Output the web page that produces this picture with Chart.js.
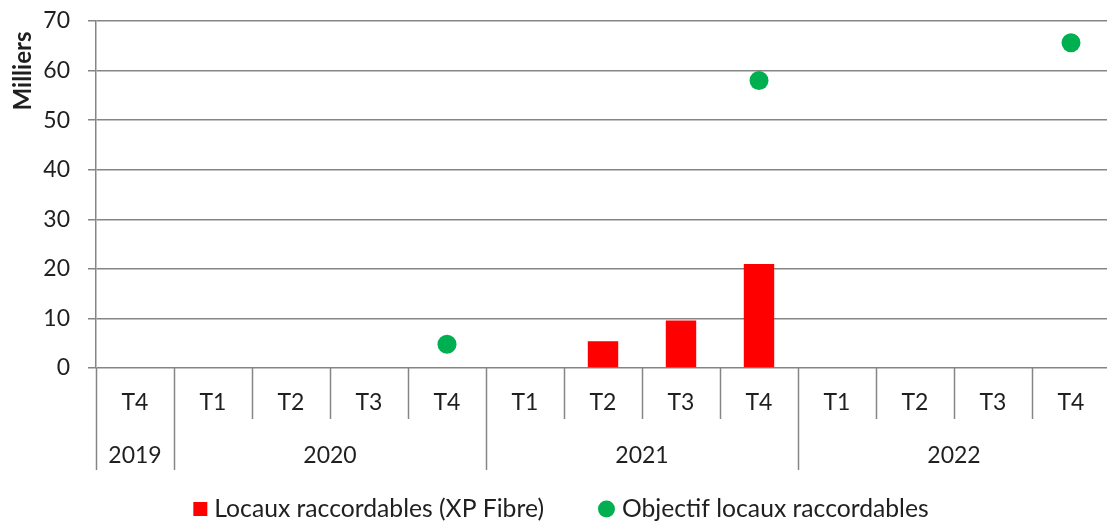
<!DOCTYPE html>
<html lang="fr">
<head>
<meta charset="utf-8">
<title>Locaux raccordables</title>
<script src="https://cdn.jsdelivr.net/npm/chart.js@4/dist/chart.umd.min.js"></script>
<style>
  html, body { margin: 0; padding: 0; background: #ffffff; overflow: hidden; }
  #wrap { width: 1107px; height: 527px; overflow: hidden; }
  canvas { display: block; }
</style>
</head>
<body>
<div id="wrap"><canvas id="c" width="1110" height="527"></canvas></div>
<script>
// Quarters on the axis, with their years grouped underneath
const quarters = ['T4', 'T1', 'T2', 'T3', 'T4', 'T1', 'T2', 'T3', 'T4', 'T1', 'T2', 'T3', 'T4'];
const years = ['2019', '2020', '2021', '2022'];
const yearSpans = [1, 4, 4, 4];

// Values in thousands of premises
const locauxRaccordables = [null, null, null, null, null, null, 5.4, 9.6, 21.0, null, null, null, null];
const objectifLocaux = [null, null, null, null, 4.8, null, null, null, 58.0, null, null, null, 65.6];

const yTicks = [0, 10, 20, 30, 40, 50, 60, 70];

const seriesNames = ['Locaux raccordables (XP Fibre)', 'Objectif locaux raccordables'];
const RED = '#ff0000';
const GREEN = '#00b050';
const GRID = '#858585';
const TEXT = '#1f1f1f';
const FONT = 'Lato, "Noto Sans", sans-serif';

Chart.defaults.font.family = FONT;
Chart.defaults.color = TEXT;

// Draws the two-level category axis, the unit label and the legend
const decorations = {
  id: 'decorations',
  afterDraw(chart) {
    const { ctx, chartArea: a, scales: { x } } = chart;
    const px = i => x.getPixelForValue(i);
    const edge = b => {
      if (b === 0) return a.left;
      if (b === quarters.length) return a.right;
      return (px(b - 1) + px(b)) / 2;
    };
    const rowBottom = a.bottom + 51;
    const groupBottom = a.bottom + 102;

    ctx.save();
    ctx.strokeStyle = GRID;
    ctx.lineWidth = 1.5;

    // year group boundaries
    const yearStarts = [];
    let acc = 0;
    yearSpans.forEach(s => { yearStarts.push(acc); acc += s; });
    yearStarts.push(acc);

    for (let b = 0; b <= quarters.length; b++) {
      const isYear = yearStarts.includes(b);
      const xx = Math.round(edge(b)) + 0.5;
      ctx.beginPath();
      ctx.moveTo(xx, a.bottom);
      ctx.lineTo(xx, isYear ? groupBottom : rowBottom);
      ctx.stroke();
    }

    // quarter labels
    ctx.fillStyle = TEXT;
    ctx.textAlign = 'center';
    ctx.textBaseline = 'middle';
    ctx.font = '23px ' + FONT;
    quarters.forEach((q, i) => ctx.fillText(q, px(i), a.bottom + 35));

    // year labels, centred over their quarters
    years.forEach((yr, k) => {
      const cx = (edge(yearStarts[k]) + edge(yearStarts[k + 1])) / 2;
      ctx.fillText(yr, cx, a.bottom + 88);
    });

    // unit label
    ctx.save();
    ctx.translate(23, 71);
    ctx.rotate(-Math.PI / 2);
    ctx.font = 'bold 24px ' + FONT;
    ctx.fillText('Milliers', 0, 0);
    ctx.restore();

    // legend
    ctx.font = '24.7px ' + FONT;
    ctx.textAlign = 'left';
    const w1 = ctx.measureText(seriesNames[0]).width;
    const w2 = ctx.measureText(seriesNames[1]).width;
    const sq = 14, dia = 17, gap = 7, itemGap = 54;
    const total = sq + gap + w1 + itemGap + dia + gap + w2;
    let lx = 561 - total / 2;
    const ly = 509;
    ctx.fillStyle = RED;
    ctx.fillRect(lx, ly - sq / 2, sq, sq);
    lx += sq + gap;
    ctx.fillStyle = TEXT;
    ctx.fillText(seriesNames[0], lx, ly);
    lx += w1 + itemGap;
    ctx.fillStyle = GREEN;
    ctx.beginPath();
    ctx.arc(lx + dia / 2, ly, dia / 2, 0, Math.PI * 2);
    ctx.fill();
    lx += dia + gap;
    ctx.fillStyle = TEXT;
    ctx.fillText(seriesNames[1], lx, ly);

    ctx.restore();
  }
};

new Chart(document.getElementById('c'), {
  data: {
    labels: quarters,
    datasets: [
      {
        type: 'line',
        label: seriesNames[1],
        data: objectifLocaux,
        showLine: false,
        clip: false,
        pointRadius: 9.5,
        pointHoverRadius: 9.5,
        pointBackgroundColor: GREEN,
        pointBorderWidth: 0,
        borderColor: GREEN
      },
      {
        type: 'bar',
        label: seriesNames[0],
        data: locauxRaccordables,
        backgroundColor: RED,
        borderWidth: 0,
        categoryPercentage: 1,
        barPercentage: 0.39
      }
    ]
  },
  options: {
    responsive: false,
    animation: false,
    events: [],
    layout: { autoPadding: false, padding: { top: 21, left: 0, right: 0, bottom: 159 } },
    plugins: {
      legend: { display: false },
      tooltip: { enabled: false }
    },
    scales: {
      x: {
        display: false,
        offset: true
      },
      y: {
        min: 0,
        max: 70,
        afterFit(scale) {
          scale.width = 96;
          scale.paddingTop = 0;
          scale.paddingBottom = 0;
        },
        afterBuildTicks(scale) { scale.ticks = yTicks.map(v => ({ value: v })); },
        grid: {
          color: GRID,
          lineWidth: 1.5,
          drawTicks: true,
          tickLength: 8
        },
        border: { display: true, color: GRID, width: 1.5 },
        ticks: {
          padding: 18,
          color: TEXT,
          font: { size: 23 }
        }
      }
    }
  },
  plugins: [decorations]
});
</script>
</body>
</html>
